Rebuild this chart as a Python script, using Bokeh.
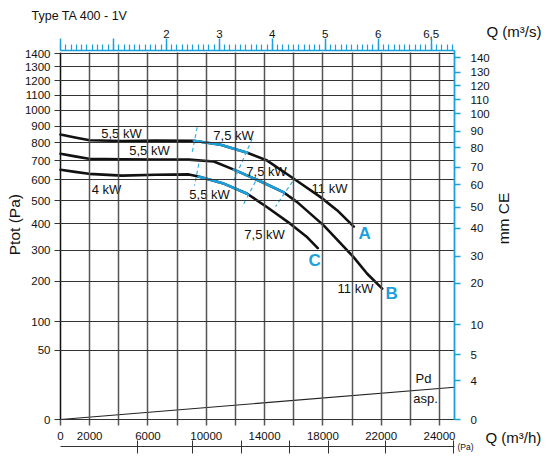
import numpy as np
from bokeh.plotting import figure
from bokeh.models import LinearAxis, Range1d, FixedTicker, Label
from bokeh.embed import file_html
from bokeh.resources import INLINE
from bokeh.core.properties import value

# ---------------- data (Q in m3/h, pressure in Pa) ----------------
a_q = [0, 1000, 2000, 4200, 6500, 9150, 10980, 12810, 14180, 16010, 17840, 18990, 20120]
a_pa = [849, 832, 815, 811, 814, 812, 789, 744, 701, 606, 517, 457, 389]
a_blue = [9150, 12810]

b_q = [0, 1000, 1940, 4200, 6520, 8800, 10520, 11890, 13590, 15320, 16240, 18070, 20120, 21040, 22070]
b_pa = [738, 724, 711, 708, 707, 706, 696, 653, 597, 539, 494, 393, 275, 222, 179]
b_blue = [11890, 15320]

c_q = [0, 1000, 1940, 4230, 6520, 8800, 9470, 11120, 12810, 14180, 15780, 16930, 17650]
c_pa = [652, 641, 631, 622, 626, 628, 617, 584, 533, 471, 400, 347, 307]
c_blue = [9470, 12810]

# motor change marks (dashed)
dash_q0 = [9379, 13153, 9489, 13379, 15918]
dash_pa0 = [893, 824, 684, 592, 592]
dash_q1 = [9036, 11890, 9194, 12467, 14751]
dash_pa1 = [747, 597, 572, 474, 474]

# dynamic pressure line
pd_q = [0, 27030]
pd_pa = [0, 10.9]

# power labels
kw_text = ["5,5 kW", "5,5 kW", "4 kW", "7,5 kW", "7,5 kW", "5,5 kW", "11 kW", "7,5 kW", "11 kW"]
kw_q = [4185, 6106, 3156, 11870, 14134, 10223, 18456, 13997, 20240]
kw_pa = [855, 757, 553, 843, 643, 529, 558, 358, 179]

curve_names = ["A", "B", "C"]
curve_lab_q = [20858, 22710, 17427]
curve_lab_pa = [362, 166, 264]

pd_text = ["Pd", "asp."]
pd_text_q = [24906, 25043]
pd_text_pa = [17.6, 4.6]

# axes ticks
left_ticks = [0, 50, 100, 200, 300, 400, 500, 600, 700, 800, 900, 1000, 1100, 1200, 1300, 1400]
bottom_ticks = list(range(0, 26001, 2000))
bottom_labels = {0: "0", 2000: "2000", 6000: "6000", 10000: "10000", 14000: "14000",
                 18000: "18000", 22000: "22000", 26000: "24000"}
top_ticks = [0, 1, 2, 3, 4, 5, 6, 7]
top_labels = {2: "2", 3: "3", 4: "4", 5: "5", 6: "6", 7: "6,5"}
right_labels = ["140", "130", "120", "110", "100", "90", "80", "70", "60", "50",
                "40", "30", "20", "10", "5", "4", "0"]

# ---------------- layout (pixel geometry of the canvas) ----------------
W, H = 546, 462
X0, X1 = 60, 454          # chart area left / right
Y0, Y1 = 419, 50          # chart area bottom / top
PX_Q = (X1 - X0) / 27030.0   # px per m3/h
PX_S = 52.95                 # px per m3/s
PX_V = 9.78                  # px per sqrt(Pa)

def qx(px):
    return (px - X0) / PX_Q

def vy(py):
    return (Y0 - py) / PX_V

right_rows = [57.3, 71.7, 85, 99, 113.3, 130.7, 147.3, 166.7, 184.3, 206.7, 227.7,
              255.7, 282.7, 324, 354.3, 380, 419]
pa_scale_rows = [136.7, 192.3, 241, 289, 328.3, 385, 453.3]

BLUE = "#1BA0DE"
DBLUE = "#3AAEE8"
FONT = "Liberation Sans"
TXT = "#111111"

p = figure(width=W, height=H, x_range=Range1d(qx(0), qx(W)), y_range=Range1d(vy(H), vy(0)),
           output_backend="svg", toolbar_location=None, min_border=0)
p.outline_line_color = None
p.background_fill_color = "white"
p.xgrid.visible = False
p.ygrid.visible = False

q_end = qx(X1)
v_top = vy(Y1)

def style_labels(ax, size="11.5px"):
    ax.major_label_text_font = FONT
    ax.major_label_text_font_size = size
    ax.major_label_text_color = TXT
    ax.minor_tick_line_color = None

# left axis (Pa, square-root scale) -- its inner ticks form the horizontal grid
ly = p.left[0]
lt = [float(np.sqrt(v)) for v in left_ticks]
ly.fixed_location = 0
ly.bounds = (0, lt[-1])
ly.ticker = FixedTicker(ticks=lt)
ly.major_label_overrides = {t: str(v) for t, v in zip(lt, left_ticks)}
ly.axis_line_color = "#111111"
ly.axis_line_width = 1.2
ly.major_tick_line_color = "#333333"
ly.major_tick_line_width = 1.1
ly.major_tick_out = 6
ly.major_tick_in = X1 - X0
ly.major_label_standoff = 4
style_labels(ly)

# bottom axis (m3/h) -- its inner ticks form the vertical grid
bx = p.below[0]
bx.fixed_location = 0
bx.bounds = (0, q_end)
bx.ticker = FixedTicker(ticks=bottom_ticks)
bx.major_label_overrides = {t: bottom_labels.get(t, "") for t in bottom_ticks}
bx.axis_line_color = "#222222"
bx.axis_line_width = 1.2
bx.major_tick_line_color = "#555555"
bx.major_tick_line_width = 1.5
bx.major_tick_out = 6
bx.major_tick_in = Y0 - 52
bx.major_label_standoff = 6
style_labels(bx)

# pressure scale below
pa_ticks = [qx(r) for r in pa_scale_rows]
pa_ax = LinearAxis(ticker=FixedTicker(ticks=pa_ticks), fixed_location=vy(446), bounds=(0, q_end))
pa_ax.major_label_overrides = {t: "" for t in pa_ticks}
pa_ax.major_label_text_font_size = "1px"
pa_ax.axis_line_color = "#333333"
pa_ax.axis_line_width = 1
pa_ax.major_tick_line_color = "#333333"
pa_ax.major_tick_in = 6
pa_ax.major_tick_out = 7
pa_ax.minor_tick_line_color = None
p.add_layout(pa_ax, "below")

# top axis (m3/s)
s_end = (X1 - X0) / PX_S
p.extra_x_ranges = {"qs": Range1d(-X0 / PX_S, (W - X0) / PX_S)}
top = LinearAxis(x_range_name="qs", fixed_location=v_top, bounds=(0, s_end),
                 ticker=FixedTicker(ticks=top_ticks, minor_ticks=[i / 10 for i in range(75)]))
top.major_label_overrides = {t: top_labels.get(t, "") for t in top_ticks}
top.axis_line_color = BLUE
top.axis_line_width = 1.5
top.major_tick_line_color = BLUE
top.major_tick_line_width = 1.5
top.minor_tick_line_color = BLUE
top.minor_tick_line_width = 1.2
top.major_tick_out = 12
top.major_tick_in = 0
top.minor_tick_out = 6
top.minor_tick_in = 0
top.major_label_standoff = 1
top.major_label_text_font = FONT
top.major_label_text_font_size = "11.5px"
top.major_label_text_color = TXT
p.add_layout(top, "above")

# right axis (mm CE)
rpos = [vy(r) for r in right_rows]
right = LinearAxis(ticker=FixedTicker(ticks=rpos), fixed_location=q_end, bounds=(0, v_top))
right.major_label_overrides = {t: l for t, l in zip(rpos, right_labels)}
right.axis_line_color = BLUE
right.axis_line_width = 1.8
right.major_tick_line_color = BLUE
right.major_tick_line_width = 1.5
right.major_tick_out = 6
right.major_tick_in = 0
right.major_label_standoff = 10
style_labels(right)
p.add_layout(right, "right")

# Pd line
p.line(pd_q, np.sqrt(pd_pa), line_color="#222222", line_width=1.1)

# curves
for q, pa, blue in [(a_q, a_pa, a_blue), (b_q, b_pa, b_blue), (c_q, c_pa, c_blue)]:
    q = np.array(q, float)
    v = np.sqrt(np.array(pa, float))
    p.line(q, v, line_color="#111111", line_width=2.6, line_join="round", line_cap="round")
    m = (q >= blue[0]) & (q <= blue[1])
    p.line(q[m], v[m], line_color=BLUE, line_width=2.6, line_join="round", line_cap="round")

# dashed motor change marks
p.segment(x0=dash_q0, y0=np.sqrt(dash_pa0), x1=dash_q1, y1=np.sqrt(dash_pa1),
          line_color=DBLUE, line_width=1.2, line_dash="4 3")

# labels in the plot
p.text(x=kw_q, y=np.sqrt(kw_pa), text=kw_text, text_font=value(FONT), text_font_size="13px",
       text_align="center", text_baseline="middle", text_color=TXT)
p.text(x=curve_lab_q, y=np.sqrt(curve_lab_pa), text=curve_names, text_font=value(FONT),
       text_font_size="17px", text_font_style="bold", text_align="center",
       text_baseline="middle", text_color=BLUE)
p.text(x=pd_text_q, y=np.sqrt(pd_text_pa), text=pd_text, text_font=value(FONT),
       text_font_size="13px", text_align="center", text_baseline="middle", text_color=TXT)

# titles
def lab(px, py, text, size, align="left", angle=0.0):
    p.add_layout(Label(x=qx(px), y=vy(py), text=text, text_font=FONT, text_font_size=size,
                       text_align=align, text_baseline="middle", angle=angle,
                       text_color=TXT))

lab(31, 15, "Type TA 400 - 1V", "12.5px")
lab(486, 31, "Q (m³/s)", "15px")
lab(485, 437, "Q (m³/h)", "15px")
lab(14, 222, "Ptot  (Pa)", "15.5px", align="center", angle=np.pi / 2)
lab(503, 218, "mm CE", "15.5px", align="center", angle=np.pi / 2)
lab(457, 446, "(Pa)", "8.5px")

open("out.html", "w").write(file_html(p, INLINE))
